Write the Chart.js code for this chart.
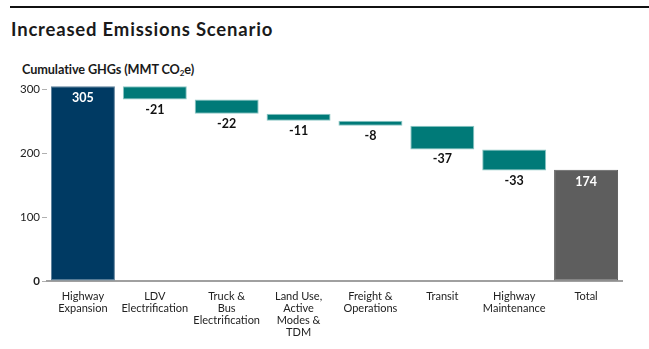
<!DOCTYPE html>
<html>
<head>
<meta charset="utf-8">
<script src="https://cdn.jsdelivr.net/npm/chart.js@4"></script>
<style>
  html, body { margin: 0; padding: 0; background: #fff; }
  #wrap { position: relative; width: 649px; height: 349px; overflow: hidden; font-family: Lato, "Open Sans", sans-serif; }
  #rule { position: absolute; left: 10px; right: 0; top: 6px; height: 2px; background: #111; }
  #title { position: absolute; left: 11px; top: 19.6px; line-height: 1; font-size: 18.5px; letter-spacing: 0.8px; font-weight: 700; color: #1a1a1a; white-space: nowrap; }
  #sub { position: absolute; left: 22px; top: 61px; font-size: 12.7px; letter-spacing: -0.1px; font-weight: 700; color: #1a1a1a; white-space: nowrap; }
  #sub sub { font-size: 8px; vertical-align: -2px; }
  canvas { position: absolute; left: 0; top: 0; }
</style>
</head>
<body>
<div id="wrap">
  <div id="rule"></div>
  <div id="title">Increased Emissions Scenario</div>
  <div id="sub">Cumulative GHGs (MMT CO<sub>2</sub>e)</div>
  <canvas id="c" width="649" height="349"></canvas>
</div>
<script>
// Waterfall: starting total, reductions by strategy, ending total
const categories = [
  ['Highway', 'Expansion'],
  ['LDV', 'Electrification'],
  ['Truck &', 'Bus', 'Electrification'],
  ['Land Use,', 'Active', 'Modes &', 'TDM'],
  ['Freight &', 'Operations'],
  ['Transit'],
  ['Highway', 'Maintenance'],
  ['Total']
];
const startValue = 305;
const reductions = [-21, -22, -11, -8, -37, -33];
const totalValue = 174;
const yTicks = [0, 100, 200, 300];

const NAVY = '#003a63';
const TEAL = '#007a78';
const GRAY = '#5e5e5e';

// Floating ranges for each bar
const ranges = [];
const colors = [];
const borders = [];
ranges.push([0, startValue]); colors.push(NAVY); borders.push('#5d7f99');
let level = startValue;
reductions.forEach(d => {
  ranges.push([level + d, level]);
  level += d;
  colors.push(TEAL); borders.push('#8cc7c4');
});
ranges.push([0, totalValue]); colors.push(GRAY); borders.push('#5e5e5e');
const labels = [String(startValue), ...reductions.map(String), String(totalValue)];

const valueLabels = {
  id: 'valueLabels',
  afterDatasetsDraw(chart) {
    const ctx = chart.ctx;
    const meta = chart.getDatasetMeta(0);
    ctx.save();
    ctx.font = '700 12.5px Lato, "Open Sans", sans-serif';
    ctx.textAlign = 'center';
    ctx.textBaseline = 'middle';
    meta.data.forEach((bar, i) => {
      const isTotal = i === 0 || i === meta.data.length - 1;
      if (isTotal) {
        ctx.fillStyle = '#ffffff';
        ctx.fillText(labels[i], bar.x, bar.y + 12);
      } else {
        ctx.fillStyle = '#111111';
        ctx.fillText(labels[i], bar.x, bar.base + 10);
      }
    });
    ctx.restore();
  }
};

new Chart(document.getElementById('c'), {
  type: 'bar',
  data: {
    labels: categories,
    datasets: [{
      data: ranges,
      backgroundColor: colors,
      borderColor: borders,
      borderWidth: 1,
      borderSkipped: false,
      categoryPercentage: 1,
      barPercentage: 0.89
    }]
  },
  options: {
    responsive: false,
    animation: false,
    devicePixelRatio: 1,
    layout: { padding: { left: 0, right: 27, top: 83, bottom: 0 } },
    plugins: { legend: { display: false }, tooltip: { enabled: false } },
    scales: {
      x: {
        grid: { display: false, drawTicks: false },
        border: { display: true, color: '#a0a0a0', width: 2 },
        ticks: {
          padding: 9,
          maxRotation: 0,
          autoSkip: false,
          color: '#222',
          font: { family: 'Lato, "Open Sans", sans-serif', size: 11, lineHeight: 1.1 }
        },
        afterFit(s) { s.height = 68; }
      },
      y: {
        min: 0,
        max: 310,
        afterBuildTicks(s) { s.ticks = yTicks.map(v => ({ value: v })); },
        grid: { drawOnChartArea: false, drawTicks: true, tickLength: 5, color: '#b0b0b0' },
        border: { display: false },
        ticks: {
          padding: 2,
          color: '#222',
          font: ctx => ({
            family: 'Lato, "Open Sans", sans-serif',
            size: 11.5,
            weight: ctx.tick && ctx.tick.value === 0 ? '700' : '400'
          })
        },
        afterFit(s) { s.width = 47; }
      }
    }
  },
  plugins: [valueLabels]
});
</script>
</body>
</html>
